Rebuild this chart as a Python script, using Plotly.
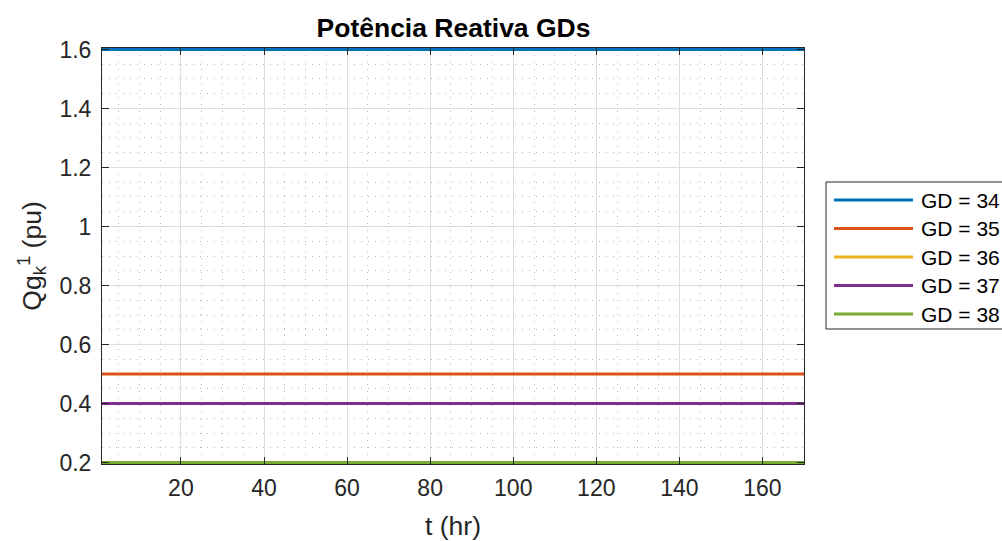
import plotly.graph_objects as go

# Data
t_hr = list(range(1, 171))
gd_names = ["GD = 34", "GD = 35", "GD = 36", "GD = 37", "GD = 38"]
gd_levels = [1.6, 0.5, 0.2, 0.4, 0.2]
gd_colors = ["#0072BD", "#D95319", "#EDB120", "#7E2F8E", "#77AC30"]
x_ticks = [20, 40, 60, 80, 100, 120, 140, 160]
y_ticks = [0.2, 0.4, 0.6, 0.8, 1.0, 1.2, 1.4, 1.6]

FONT = "Liberation Sans, Arial, Helvetica, sans-serif"
AX = "#262626"

# plot area in figure pixels
ML, MT, PW, PH = 102, 48, 702, 416
W, H = 1002, 541

fig = go.Figure()
for i, (name, lvl, col) in enumerate(zip(gd_names, gd_levels, gd_colors)):
    fig.add_trace(go.Scatter(
        x=t_hr, y=[lvl] * len(t_hr), mode="lines", name=name,
        line=dict(color=col, width=3), showlegend=False,
    ))

axis_common = dict(
    showline=True, linecolor=AX, linewidth=1, mirror="ticks",
    ticks="inside", ticklen=7, tickcolor=AX, tickwidth=1,
    showgrid=True, gridcolor="#dedede", gridwidth=1,
    zeroline=False, automargin=False,
    tickfont=dict(family=FONT, size=23, color=AX),
)
minor_common = dict(showgrid=True, gridcolor="#b8b8b8", griddash="1px,6px",
                    gridwidth=1, ticks="")

fig.update_xaxes(
    **axis_common,
    range=[1, 170], tickvals=x_ticks,
    ticklabelstandoff=3,
    minor=dict(dtick=5, tick0=0, **minor_common),
    title=dict(text="t (hr)", font=dict(family=FONT, size=26.5, color=AX), standoff=18),
)
pad = 0.2 * 1.5 / 60  # half line width in data units so edge lines are not clipped
fig.update_yaxes(
    **axis_common,
    range=[0.2 - pad, 1.6 + pad], tickvals=y_ticks,
    ticklabelstandoff=5,
    minor=dict(dtick=0.05, tick0=0, **minor_common),
    title=dict(text="Qg<sub>k</sub><sup>1</sup> (pu)", font=dict(family=FONT, size=26.5, color=AX), standoff=10),
)

# Legend drawn in paper coordinates (MATLAB-style long line samples)
def px_x(px):
    return (px - ML) / PW

def px_y(py):
    return (MT + PH - py) / PH

box_left, box_top, box_bottom = 826, 182, 329
item_y0, item_dy = 200, 28.5
line_x0, line_x1, text_x = 834, 913, 919

shapes = [dict(type="rect", xref="paper", yref="paper",
               x0=px_x(box_left), x1=px_x(W + 20), y0=px_y(box_bottom), y1=px_y(box_top),
               line=dict(color=AX, width=1), fillcolor="white", layer="above")]
annotations = []
for i, (name, col) in enumerate(zip(gd_names, gd_colors)):
    yy = px_y(item_y0 + i * item_dy)
    shapes.append(dict(type="line", xref="paper", yref="paper",
                       x0=px_x(line_x0), x1=px_x(line_x1), y0=yy, y1=yy,
                       line=dict(color=col, width=3), layer="above"))
    annotations.append(dict(text=name, xref="paper", yref="paper", x=px_x(text_x), y=yy,
                            xanchor="left", yanchor="middle", showarrow=False,
                            font=dict(family=FONT, size=21, color="black")))

fig.update_layout(
    width=W, height=H,
    margin=dict(l=ML, r=W - ML - PW, t=MT, b=H - MT - PH),
    paper_bgcolor="white", plot_bgcolor="white",
    title=dict(text="<b>Potência Reativa GDs</b>", x=0.4526, xanchor="center",
               y=0.949, yanchor="middle", yref="container",
               font=dict(family=FONT, size=26.5, color="black")),
    showlegend=False,
    shapes=shapes, annotations=annotations,
)

fig.write_html("out.html", config={"displayModeBar": False},
               post_script="document.body.style.margin='0';document.body.style.overflow='hidden';")
